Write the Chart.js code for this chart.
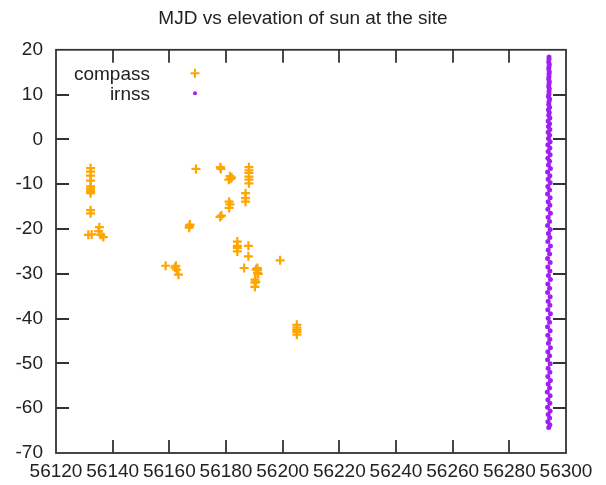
<!DOCTYPE html>
<html>
<head>
<meta charset="utf-8">
<script src="https://cdn.jsdelivr.net/npm/chart.js@4"></script>
<style>
  html, body { margin: 0; padding: 0; background: #fff; }
  #chart { display: block; }
</style>
</head>
<body>
<canvas id="chart" width="606" height="485"></canvas>
<script>
const chartTitle = 'MJD vs elevation of sun at the site';
const seriesNames = ['compass', 'irnss'];
const xTicks = [56120, 56140, 56160, 56180, 56200, 56220, 56240, 56260, 56280, 56300];
const yTicks = [-70, -60, -50, -40, -30, -20, -10, 0, 10, 20];

// compass: MJD and sun elevation (deg)
const compassMjd = [
  56132.2, 56132.2, 56132.2, 56132.2, 56132.2, 56132.2, 56132.2, 56132.2, 56132.2, 56132.2,
  56131.4, 56132.6, 56135.3, 56135.0, 56135.8, 56136.7,
  56158.7, 56162.0, 56162.3, 56162.6, 56163.2,
  56167.1, 56167.3, 56167.0, 56169.4,
  56177.9, 56178.4, 56178.2, 56178.0,
  56181.4, 56181.6, 56182.0, 56181.0, 56181.1, 56181.4, 56181.1,
  56188.1, 56188.1, 56188.1, 56188.1, 56188.1, 56188.1,
  56186.9, 56186.9, 56186.9,
  56184.0, 56184.0, 56184.0, 56184.0, 56187.9, 56187.9, 56186.4,
  56191.1, 56191.1, 56191.1, 56190.6, 56191.4,
  56190.2, 56190.2, 56190.2, 56190.5,
  56199.1,
  56205.0, 56205.0, 56205.0, 56205.0, 56205.0
];
const compassElev = [
  -6.4, -7.2, -8.1, -9.2, -10.5, -11.0, -11.5, -12.0, -15.8, -16.5,
  -21.3, -21.2, -19.6, -20.5, -21.3, -21.8,
  -28.2, -28.6, -28.2, -29.1, -30.2,
  -19.3, -19.0, -19.7, -6.6,
  -17.3, -17.0, -6.6, -6.2,
  -8.2, -8.8, -8.5, -9.0, -13.9, -14.5, -15.3,
  -6.2, -6.9, -7.5, -8.3, -9.0, -9.8,
  -12.0, -13.1, -13.9,
  -22.8, -23.75, -24.2, -25.0, -23.75, -26.1, -28.7,
  -28.7, -29.2, -29.8, -29.0, -30.0,
  -31.3, -32.0, -32.9, -31.8,
  -27.0,
  -41.4, -42.0, -42.5, -43.0, -43.6
];

// irnss: MJD and sun elevation (deg)
const irnssMjd = [
  56294.0, 56294.0, 56293.9, 56294.1, 56294.0, 56293.9, 56294.1, 56294.0, 56294.0, 56293.9,
  56294.1, 56294.0, 56293.9, 56294.1, 56294.0, 56294.0, 56293.8, 56294.2, 56294.0, 56293.9,
  56294.2, 56293.8, 56294.1, 56293.9, 56294.3, 56293.7, 56294.2, 56293.8, 56294.3, 56293.7,
  56294.2, 56293.8, 56294.4, 56293.6, 56294.3, 56293.7, 56294.4, 56293.6, 56294.2, 56293.8,
  56294.5, 56293.5, 56294.3, 56293.7, 56294.4, 56293.6, 56294.2, 56293.5, 56294.4, 56293.7,
  56294.3, 56293.6, 56294.5, 56293.7, 56294.2, 56293.5, 56294.4, 56293.8, 56294.3, 56293.6,
  56294.5, 56293.7, 56294.2, 56293.5, 56294.4, 56293.6, 56294.3, 56293.8, 56294.5, 56293.6,
  56294.2, 56293.5, 56294.4, 56293.7, 56294.3, 56293.6, 56294.5, 56293.7, 56294.2, 56293.5,
  56294.4, 56293.6, 56294.3, 56293.8, 56294.5, 56293.6, 56294.2, 56293.5, 56294.4, 56293.7,
  56294.3, 56293.6, 56294.5, 56293.7, 56294.2, 56293.4, 56294.4, 56293.6, 56294.3, 56293.5,
  56294.4, 56293.7, 56294.2, 56293.6, 56294.3, 56293.9
];
const irnssElev = [
  18.4, 17.9, 17.3, 16.8, 16.2, 15.7, 15.1, 14.6, 14.0, 13.5,
  12.9, 12.4, 11.8, 11.3, 10.7, 10.1, 9.6, 9.0, 8.4, 7.8,
  7.2, 6.6, 6.0, 5.4, 4.8, 4.1, 3.5, 2.9, 2.2, 1.6,
  0.9, 0.2, -0.5, -1.2, -1.9, -2.7, -3.4, -4.2, -4.9, -5.7,
  -6.5, -7.3, -8.1, -8.9, -9.7, -10.5, -11.3, -12.2, -13.0, -13.9,
  -14.7, -15.6, -16.5, -17.4, -18.3, -19.2, -20.1, -21.0, -21.9, -22.8,
  -23.8, -24.7, -25.6, -26.6, -27.5, -28.5, -29.4, -30.4, -31.3, -32.3,
  -33.2, -34.2, -35.1, -36.1, -37.0, -38.0, -38.9, -39.9, -40.8, -41.8,
  -42.7, -43.7, -44.6, -45.5, -46.5, -47.4, -48.3, -49.2, -50.1, -51.1,
  -52.0, -52.9, -53.8, -54.6, -55.5, -56.4, -57.2, -58.1, -58.9, -59.8,
  -60.6, -61.4, -62.2, -63.0, -63.7, -64.3
];

const FONT = "'Liberation Sans', Arial, Helvetica, sans-serif";
const TEXT = '#222';
const FRAME = '#333';
const ORANGE = '#ffa500';
const PURPLE = '#a020f0';

function toPoints(xs, ys) {
  return xs.map((x, i) => ({ x: x, y: ys[i] }));
}

// gnuplot-like box with inward ticks on all four sides
const framePlugin = {
  id: 'frame',
  afterDraw(chart) {
    const ctx = chart.ctx;
    const a = chart.chartArea;
    const xs = chart.scales.x, ys = chart.scales.y;
    const tl = 13;
    ctx.save();
    ctx.strokeStyle = FRAME;
    ctx.lineWidth = 1.8;
    ctx.beginPath();
    xTicks.slice(1, -1).forEach(v => {
      const px = Math.round(xs.getPixelForValue(v));
      ctx.moveTo(px, a.bottom); ctx.lineTo(px, a.bottom - tl);
      ctx.moveTo(px, a.top); ctx.lineTo(px, a.top + tl);
    });
    yTicks.slice(1, -1).forEach(v => {
      const py = Math.round(ys.getPixelForValue(v));
      ctx.moveTo(a.left, py); ctx.lineTo(a.left + tl, py);
      ctx.moveTo(a.right, py); ctx.lineTo(a.right - tl, py);
    });
    ctx.stroke();
    ctx.strokeRect(a.left, a.top, a.right - a.left, a.bottom - a.top);
    ctx.restore();
  }
};

// key in the top left corner, text right-aligned then sample mark
const keyPlugin = {
  id: 'key',
  afterDraw(chart) {
    const ctx = chart.ctx;
    const a = chart.chartArea;
    const textRight = a.left + 94;
    const markX = a.left + 139;
    const rows = [a.top + 23.5, a.top + 43.5];
    ctx.save();
    ctx.font = '19px ' + FONT;
    ctx.fillStyle = TEXT;
    ctx.textAlign = 'right';
    ctx.textBaseline = 'middle';
    seriesNames.forEach((name, i) => ctx.fillText(name, textRight, rows[i] + 1));
    ctx.strokeStyle = ORANGE;
    ctx.lineWidth = 2;
    ctx.beginPath();
    ctx.moveTo(markX - 4.5, rows[0]); ctx.lineTo(markX + 4.5, rows[0]);
    ctx.moveTo(markX, rows[0] - 4.5); ctx.lineTo(markX, rows[0] + 4.5);
    ctx.stroke();
    ctx.fillStyle = PURPLE;
    ctx.beginPath();
    ctx.arc(markX, rows[1], 2, 0, Math.PI * 2);
    ctx.fill();
    ctx.restore();
  }
};

new Chart(document.getElementById('chart'), {
  type: 'scatter',
  data: {
    datasets: [
      {
        label: seriesNames[0],
        data: toPoints(compassMjd, compassElev),
        pointStyle: 'cross',
        pointRadius: 4.5,
        pointBorderWidth: 2.2,
        borderColor: ORANGE,
        backgroundColor: ORANGE
      },
      {
        label: seriesNames[1],
        data: toPoints(irnssMjd, irnssElev),
        pointStyle: 'circle',
        pointRadius: 2.5,
        pointBorderWidth: 0,
        borderColor: PURPLE,
        backgroundColor: PURPLE
      }
    ]
  },
  options: {
    responsive: false,
    animation: false,
    events: [],
    layout: { padding: 0 },
    plugins: {
      legend: { display: false },
      tooltip: { enabled: false },
      title: {
        display: true,
        text: chartTitle,
        color: TEXT,
        font: { family: FONT, size: 19, weight: 'normal' },
        padding: { top: 7, bottom: 20 }
      }
    },
    scales: {
      x: {
        type: 'linear',
        min: 56120,
        max: 56300,
        afterFit(s) { s.height = 32; },
        afterBuildTicks(s) { s.ticks = xTicks.map(v => ({ value: v })); },
        grid: { display: false, drawTicks: false },
        border: { display: false },
        ticks: {
          autoSkip: false,
          maxRotation: 0,
          minRotation: 0,
          padding: 7,
          color: TEXT,
          font: { family: FONT, size: 19 },
          callback: v => String(v)
        }
      },
      y: {
        type: 'linear',
        min: -70,
        max: 20,
        afterFit(s) { s.width = 56; },
        afterBuildTicks(s) { s.ticks = yTicks.map(v => ({ value: v })); },
        grid: { display: false, drawTicks: false },
        border: { display: false },
        ticks: {
          autoSkip: false,
          padding: 13,
          color: TEXT,
          font: { family: FONT, size: 19 },
          callback: v => String(v)
        }
      },
      // empty right-hand margin so the title stays centred on the whole canvas
      yRight: {
        type: 'linear',
        position: 'right',
        min: -70,
        max: 20,
        afterFit(s) { s.width = 40; },
        grid: { display: false, drawTicks: false },
        border: { display: false },
        ticks: { display: false }
      }
    }
  },
  plugins: [framePlugin, keyPlugin]
});
</script>
</body>
</html>
